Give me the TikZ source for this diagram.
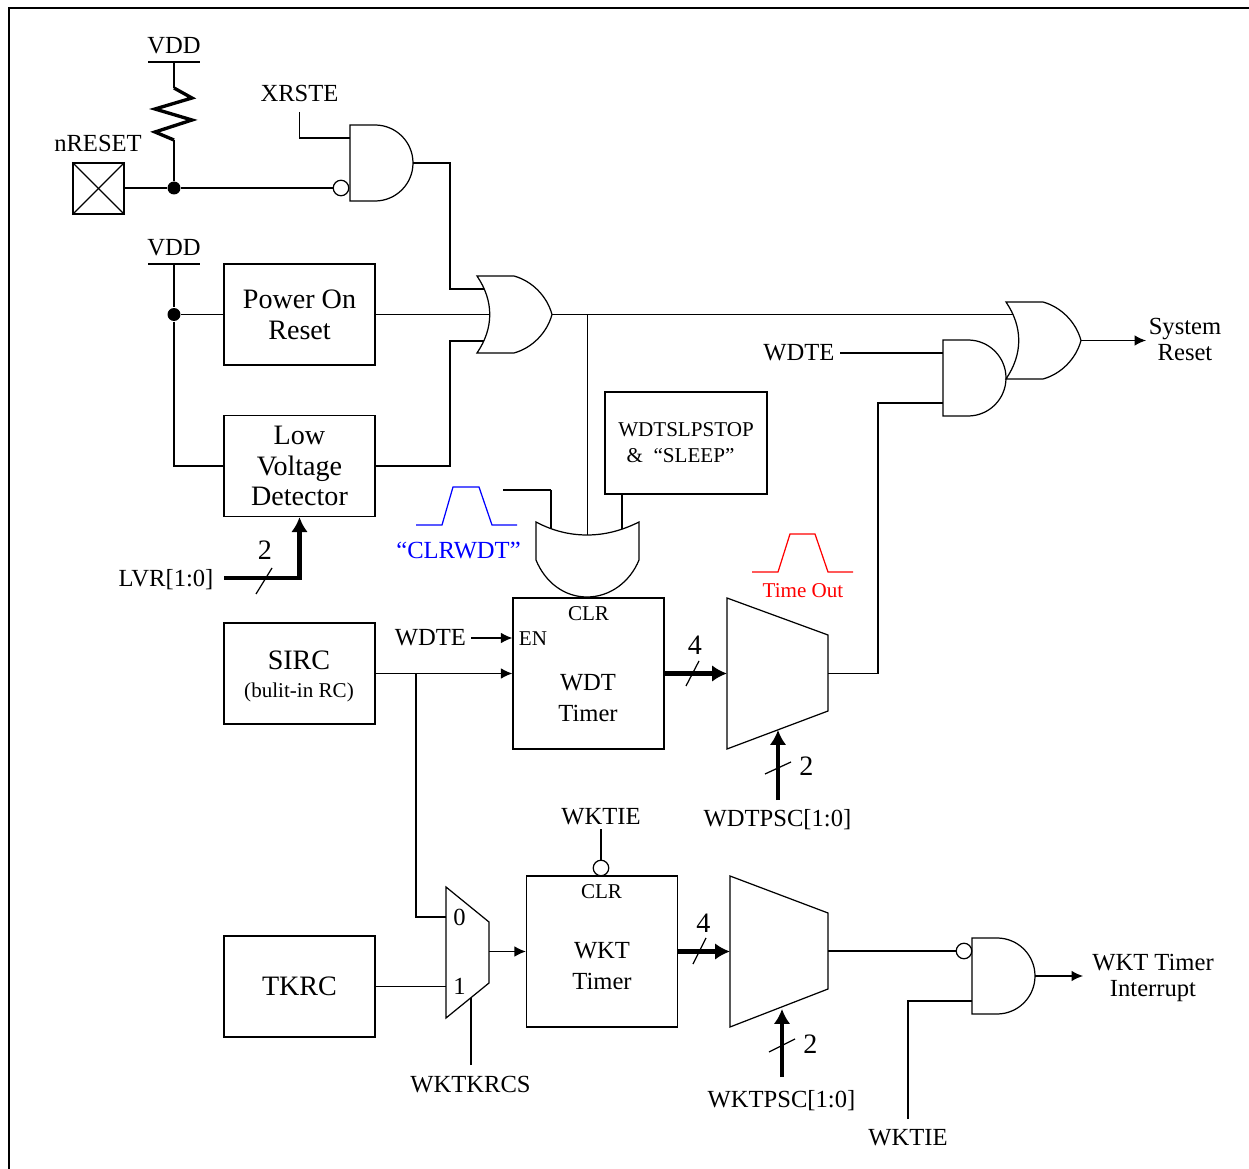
\documentclass[tikz,border=0pt]{standalone}
\usepackage{fontspec}
\setmainfont{Liberation Serif}
\usetikzlibrary{arrows.meta}

\begin{document}
\begin{tikzpicture}[
  x=0.02cm, y=-0.02cm,
  >={Latex[length=6.5pt,width=6pt]},
  line width=0.7pt,
  thickbus/.style={line width=2.5pt, -{Latex[length=8.5pt,width=9.5pt]}},
  box/.style={draw, minimum width=3.02cm, minimum height=2.02cm, inner sep=0pt},
  bigt/.style={font=\fontsize{16}{17.6}\selectfont, align=center, inner sep=0pt},
  midt/.style={font=\fontsize{14}{15.3}\selectfont, align=center, inner sep=0pt},
  timert/.style={font=\fontsize{14}{17.2}\selectfont, align=center, inner sep=0pt},
  smallt/.style={font=\fontsize{12}{14.7}\selectfont, align=center, inner sep=0pt},
  bubble/.style={draw, circle, minimum size=0.31cm, inner sep=0pt},
  junction/.style={fill, circle, minimum size=0.26cm, inner sep=0pt},
  andgate/.pic={
    \draw (0,0) -- (25,0) .. controls (46,0) and (63,17) .. (63,38)
      .. controls (63,59) and (46,76) .. (25,76) -- (0,76) -- cycle;
    \coordinate (-a) at (0,13);
    \coordinate (-b) at (0,63);
    \coordinate (-out) at (63,38);
  },
  orgate/.pic={
    \draw (0,0) -- (37,0) .. controls (55,5) and (70,20) .. (75,38.5)
      .. controls (70,57) and (55,72) .. (37,77) -- (0,77)
      .. controls (17,52) and (17,25) .. (0,0) -- cycle;
    \coordinate (-a) at (7,13);
    \coordinate (-b) at (13,38.5);
    \coordinate (-c) at (7,65);
    \coordinate (-out) at (75,38.5);
  }
]
  \useasboundingbox (0,0) rectangle (1249,1169);

  % Frame
  \draw[line width=1.2pt] (9,1169) -- (9,8) -- (1249,8);

  % Blocks
  \node[box, bigt] (por) at (299.5,314.5) {Power On\\Reset};
  \node[box, bigt] (lvd) at (299.5,466) {Low\\Voltage\\Detector};
  \node[box] (sirc) at (299.5,673.5) {};
  \node[bigt] (sirctext) at (299,660) {SIRC};
  \node[smallt] (sircnote) at (299,692) {(bulit-in RC)};
  \node[box, bigt] (tkrc) at (299.5,986.5) {TKRC};
  \node[box, minimum width=3.24cm, minimum height=2.04cm] (slp) at (686,443) {};
  \node[smallt] (slptext) at (686,442.5) {WDTSLPSTOP\\\&\ \ “SLEEP”\hspace*{0.22cm}};
  \node[box, minimum height=3.02cm] (wdt) at (588.5,673.5) {};
  \node[box, minimum height=3.02cm] (wkt) at (602,951.5) {};
  \node[smallt] (wdtclr) at (588.5,614) {CLR};
  \node[smallt] (wdten) at (533,638.5) {EN};
  \node[timert] (wdttext) at (588,698) {WDT\\Timer};
  \node[smallt] (wktclr) at (601.5,892) {CLR};
  \node[timert] (wkttext) at (602,966) {WKT\\Timer};

  % nRESET pad and pull-up
  \node[draw, minimum size=1.02cm, inner sep=0pt] (pad) at (98.5,188.5) {};
  \draw (pad.north west) -- (pad.south east);
  \draw (pad.north east) -- (pad.south west);
  \node[midt] (nreset) at (98,143) {nRESET};
  \node[midt] (vdda) at (174,46) {VDD};
  \node[midt] (vddb) at (174,248) {VDD};
  \coordinate (vddabar) at (174,62);
  \coordinate (vddbbar) at (174,264);
  \draw (148,62) -- (200,62);
  \draw (148,264) -- (200,264);
  \node[junction] (dota) at (174,188) {};
  \node[junction] (dotb) at (174,314.5) {};
  \draw (vddabar) -- (174,88);
  \draw[line width=1.9pt, line join=miter] (174,88) -- (192,98) -- (155,109) -- (192,120)
    -- (155,132) -- (174,140);
  \draw (174,140) -- (dota);

  % Gates
  \pic (rstand) at (350,125) {andgate};
  \pic (rstor) at (477,276) {orgate};
  \pic (sysor) at (1006,302) {orgate};
  \pic (wdtand) at (943,340) {andgate};
  \pic (wktand) at (972,938) {andgate};
  \node[bubble] (rstinv) at (341,188) {};
  \node[bubble] (wktinv) at (964,951) {};
  \node[bubble] (clrinv) at (601,868) {};

  % CLR gate above the WDT timer
  \draw (536,522) .. controls (553,531) and (570,535) .. (587,535)
    .. controls (604,535) and (621,531) .. (639,522) -- (639,560)
    .. controls (630,582) and (610,597) .. (587,597)
    .. controls (564,597) and (545,582) .. (536,560) -- cycle;
  \coordinate (clra) at (551,529);
  \coordinate (clrb) at (587,535);
  \coordinate (clrc) at (622,529);

  % Prescaler muxes
  \draw (727,598) -- (828,635) -- (828,711) -- (727,749) -- cycle;
  \draw (730,876) -- (828,913) -- (828,989) -- (730,1027) -- cycle;
  \draw (446,887) -- (489,922) -- (489,983) -- (446,1018) -- cycle;
  \coordinate (wdtmuxin) at (727,673.5);
  \coordinate (wdtmuxout) at (828,673.5);
  \coordinate (wdtmuxsel) at (778,730);
  \coordinate (wktmuxin) at (730,951.5);
  \coordinate (wktmuxout) at (828,951);
  \coordinate (wktmuxsel) at (782,1009);
  \coordinate (clkmuxa) at (446,917);
  \coordinate (clkmuxb) at (446,986.5);
  \coordinate (clkmuxout) at (489,951.5);
  \coordinate (clkmuxsel) at (471,998);
  \node[midt] (muxzero) at (459.5,917.5) {0};
  \node[midt] (muxone) at (459.5,986.5) {1};

  % Wires, upper part
  \node[midt] (xrste) at (299.5,93.5) {XRSTE};
  \coordinate (xrsteend) at (299.5,112);
  \draw (xrsteend) |- (rstand-a);
  \draw (pad.east |- dota) -- (dota) -- (rstinv);
  \draw (rstand-out) -| (450,289) -- (rstor-a);
  \draw (vddbbar) -- (dotb);
  \draw (dotb) -- (174,466) -- (lvd.west);
  \draw (dotb) -- (por.west);
  \draw (por.east) -- (rstor-b);
  \draw (lvd.east) -| (450,341) -- (rstor-c);
  \draw (rstor-out) -- (rstor-out -| sysor-a);
  \draw (587.5,314.5) -- (clrb -| 587.5,0);
  \draw (551,490) coordinate (clrwdtend) -- (503,490);
  \draw (clrwdtend) -- (clra);
  \draw (622,494) -- (clrc);

  % Reset output
  \node[midt] (wdtea) at (799,353) {WDTE};
  \coordinate (wdteaend) at (840,353);
  \draw (wdteaend) -- (wdtand-a);
  \draw (wdtmuxout) -| (878,403) -- (wdtand-b);
  \node[midt] (sysreset) at (1185,339.5) {System\\Reset};
  \coordinate (sysresetend) at (1146,340.5);
  \draw[->] (sysor-out) -- (sysresetend);

  % LVR bus
  \node[midt] (lvr) at (166,579.5) {LVR[1:0]};
  \coordinate (lvrend) at (224,578);
  \draw[thickbus] (lvrend) -| (lvd.south);
  \draw (256,594) -- (272,568);
  \node[bigt] (lvrtwo) at (265,550) {2};

  % Pulses
  \draw[blue] (416,525) -- (442,525) -- (453,487) -- (479,487) -- (492,525) -- (517,525);
  \node[midt, text=blue] (clrwdt) at (458.5,550.5) {“CLRWDT”};
  \draw[red] (752,572) -- (778,572) -- (790,534) -- (815,534) -- (828,572) -- (853,572);
  \node[smallt, text=red] (timeout) at (803,590.5) {Time Out};

  % WDT timer wires
  \node[midt] (wdteb) at (430.5,638) {WDTE};
  \coordinate (wdtebend) at (471,638);
  \draw[->] (wdtebend) -- (wdtebend -| wdt.west);
  \draw[->] (sirc.east) -- (wdt.west);
  \draw[thickbus] (wdt.east) -- (wdtmuxin);
  \draw (686,686) -- (699,661);
  \node[bigt] (wdtfour) at (695,645) {4};
  \coordinate (wdtpscend) at (778,800);
  \draw[thickbus] (wdtpscend) -- (wdtmuxsel);
  \draw (765,774) -- (791,762);
  \node[bigt] (wdttwo) at (806.5,766) {2};
  \node[midt] (wdtpsc) at (777.5,820) {WDTPSC[1:0]};

  % WKT timer wires
  \coordinate (sircbranch) at (416,673.5);
  \draw (sircbranch) |- (clkmuxa);
  \draw (tkrc.east) -- (clkmuxb);
  \draw[->] (clkmuxout) -- (clkmuxout -| wkt.west);
  \node[midt] (wktkrcs) at (470.5,1085) {WKTKRCS};
  \coordinate (wktkrcsend) at (471,1065);
  \draw (wktkrcsend) -- (clkmuxsel);
  \node[midt] (wktiea) at (601,817) {WKTIE};
  \coordinate (wktieaend) at (601,829);
  \draw (wktieaend) -- (clrinv);
  \draw[thickbus] (wkt.east) -- (wktmuxin);
  \draw (693,964) -- (706,938);
  \node[bigt] (wktfour) at (703.5,923) {4};
  \coordinate (wktpscend) at (782,1077);
  \draw[thickbus] (wktpscend) -- (wktmuxsel);
  \draw (769,1052) -- (795,1039);
  \node[bigt] (wkttwo) at (810.5,1044) {2};
  \node[midt] (wktpsc) at (781.5,1101) {WKTPSC[1:0]};

  % Interrupt output
  \draw (wktmuxout) -- (wktinv);
  \node[midt] (wktieb) at (908,1138) {WKTIE};
  \coordinate (wktiebend) at (908,1119);
  \draw (wktiebend) |- (wktand-b);
  \node[midt] (wktint) at (1153,978) {WKT Timer\\Interrupt};
  \coordinate (wktintend) at (1083,976);
  \draw[->] (wktand-out) -- (wktintend);
\end{tikzpicture}
\end{document}
